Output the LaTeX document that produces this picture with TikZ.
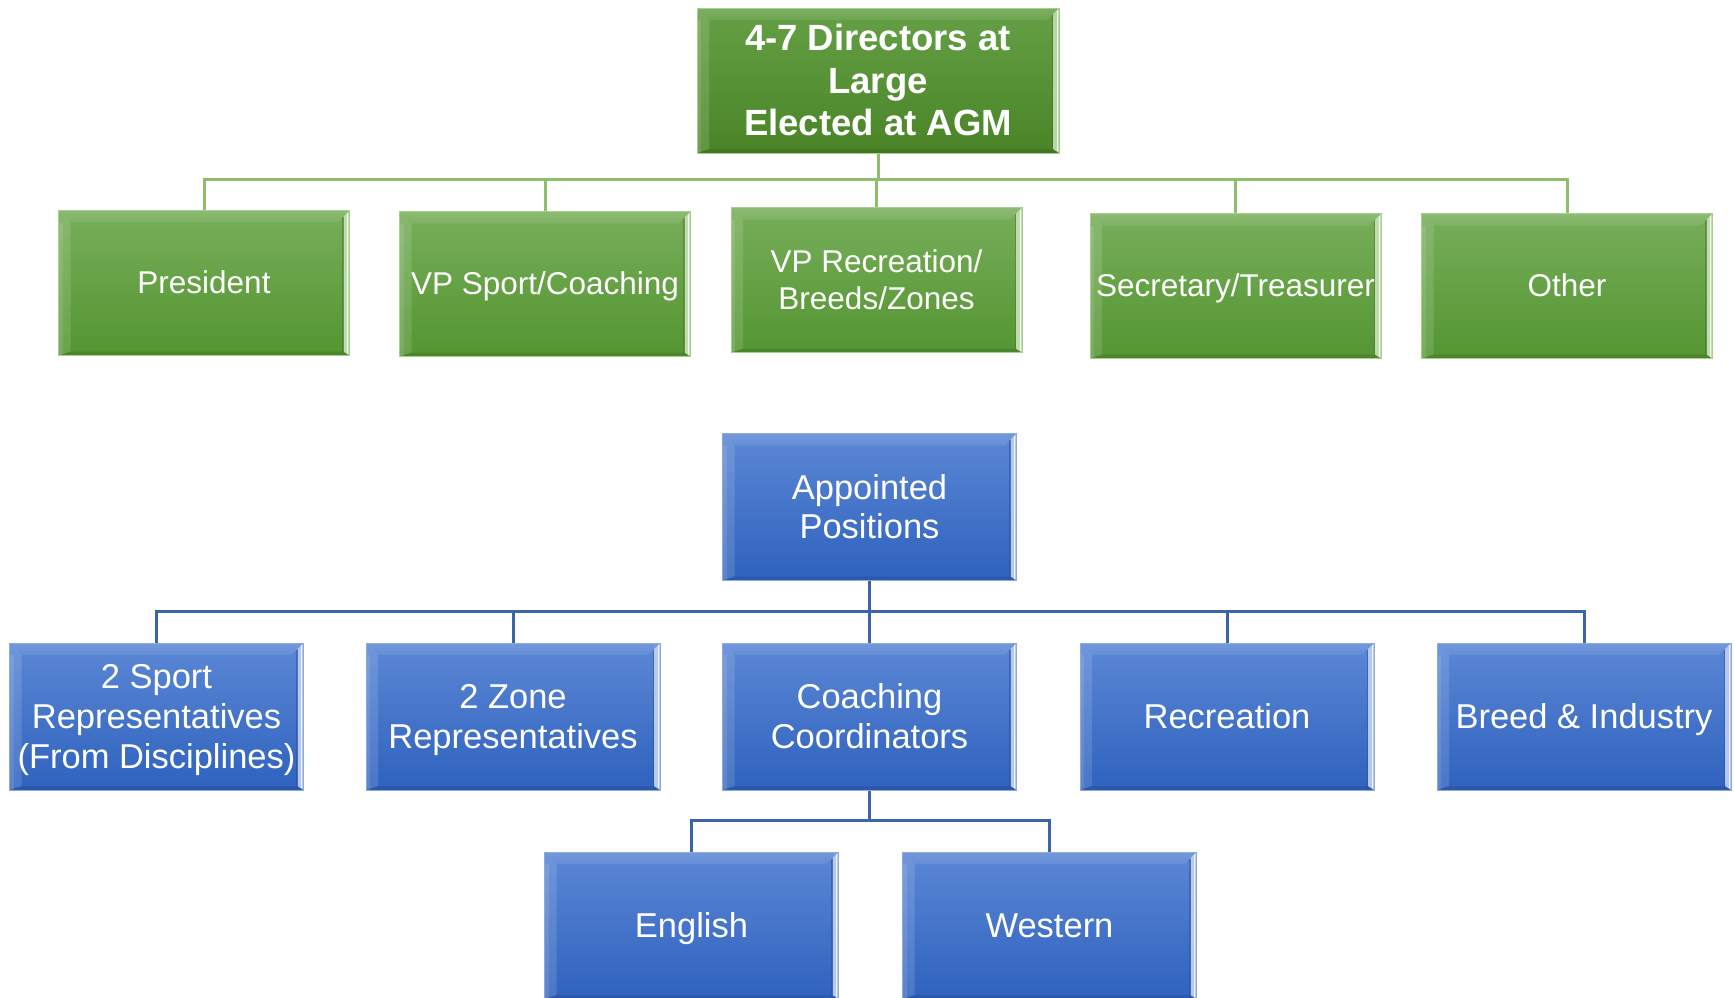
\documentclass[tikz,border=0pt]{standalone}
\usepackage{fontspec}
\setmainfont{Liberation Sans}
\usetikzlibrary{calc}
\definecolor{gtop}{HTML}{77AE5A}
\definecolor{gbot}{HTML}{549531}
\definecolor{ttop}{HTML}{66A046}
\definecolor{tbot}{HTML}{4A8427}
\definecolor{gedge}{HTML}{A8D08D}
\definecolor{gline}{HTML}{8DBF6E}
\definecolor{btop}{HTML}{5B87D5}
\definecolor{bbot}{HTML}{2F62BE}
\definecolor{bedge}{HTML}{8EAADB}
\definecolor{bline}{HTML}{3C65A8}
\newcommand\lst{\rule[-0.212em]{0pt}{1.117em}}
\tikzset{
  bevel/.style={path picture={
    \coordinate (pNW) at (path picture bounding box.north west);
    \coordinate (pNE) at (path picture bounding box.north east);
    \coordinate (pSW) at (path picture bounding box.south west);
    \coordinate (pSE) at (path picture bounding box.south east);
    \shade[top color=#1top, bottom color=#1bot] (pSW) rectangle (pNE);
    \shade[top color=#1top!85!white, middle color=#1top!55!white, bottom color=#1top!95!white]
      (pNW) -- (pNE) -- ($(pNE)+(-12pt,-12pt)$) -- ($(pNW)+(12pt,-12pt)$) -- cycle;
    \fill[white,opacity=.13] (pNW) -- ($(pNW)+(12pt,-12pt)$) -- ($(pSW)+(12pt,4pt)$) -- (pSW) -- cycle;
    \fill[white,opacity=.1] ($(pNW)+(0pt,-12pt)$) rectangle ($(pSW)+(4pt,0pt)$);
    \fill[black,opacity=.10] (pSW) -- ($(pSW)+(12pt,4pt)$) -- ($(pSE)+(-6pt,4pt)$) -- (pSE) -- cycle;
    \fill[#1top!45!white] (pNE) -- ($(pNE)+(-6pt,-6pt)$) -- ($(pSE)+(-6pt,4pt)$) -- (pSE) -- cycle;
    \draw[#1bot!80!black,opacity=.5,line width=1.2pt] ($(pNE)+(-6.5pt,-6.5pt)$) -- ($(pSE)+(-6.5pt,4pt)$);
    \draw[white,opacity=.8,line width=1pt] ($(pNE)+(-2pt,-2pt)$) -- ($(pSE)+(-2pt,2pt)$);
  }},
  gbox/.style={bevel=g, draw=gedge, line width=1pt, inner sep=0pt, text=white, align=center,
    minimum width=291pt, minimum height=145pt, font=\fontsize{31.5}{36.5}\selectfont},
  topbox/.style={bevel=t, draw=gedge, line width=1pt, inner sep=0pt, text=white, align=center,
    minimum width=362pt, minimum height=145pt, font=\fontsize{36.5}{42.5}\selectfont\bfseries},
  bbox/.style={bevel=b, draw=bedge, line width=1pt, inner sep=0pt, text=white, align=center,
    minimum width=294pt, minimum height=147pt, font=\fontsize{34.5}{39.7}\selectfont},
  gconn/.style={draw=gline, line width=3pt},
  bconn/.style={draw=bline, line width=3pt},
}
\begin{document}
\begin{tikzpicture}[x=1pt,y=-1pt]
\useasboundingbox (0,0) rectangle (1734,997);
\clip (0,0) rectangle (1734,997);
\fill[white] (0,0) rectangle (1734,997);
% connector junctions
\coordinate (gbus) at (878,179);
\coordinate (bbus) at (869.5,611);
\coordinate (cbus) at (869.5,820);
% node positions
\path
  (878,80.5) coordinate (ptop)
  (204,283) coordinate (ppres)
  (545,284) coordinate (pvps)
  (876.5,280) coordinate (pvpr)
  (1235.5,286) coordinate (psec)
  (1567,286) coordinate (poth)
  (869.5,507) coordinate (papp)
  (156.5,716.5) coordinate (psport)
  (513,716.5) coordinate (pzone)
  (869.5,716.5) coordinate (pcoach)
  (1227,716.5) coordinate (prec)
  (1584,716.5) coordinate (pbreed)
  (691.5,925.5) coordinate (peng)
  (1049.5,925.5) coordinate (pwest);
\node[topbox] (top) at (ptop) {\lst 4-7 Directors at\\\lst Large\\\lst Elected at AGM};
\node[gbox] (pres) at (ppres) {\lst President};
\node[gbox] (vps) at (pvps) {\lst VP Sport/Coaching};
\node[gbox] (vpr) at (pvpr) {\lst VP Recreation/\\\lst Breeds/Zones};
\node[gbox] (sec) at (psec) {\lst Secretary/Treasurer};
\node[gbox] (oth) at (poth) {\lst Other};
\node[bbox] (app) at (papp) {\lst Appointed\\\lst Positions};
\node[bbox] (sport) at (psport) {\lst 2 Sport\\\lst Representatives\\\lst (From Disciplines)};
\node[bbox] (zone) at (pzone) {\lst 2 Zone\\\lst Representatives};
\node[bbox] (coach) at (pcoach) {\lst Coaching\\\lst Coordinators};
\node[bbox] (rec) at (prec) {\lst Recreation};
\node[bbox] (breed) at (pbreed) {\lst Breed \& Industry};
\node[bbox] (eng) at (peng) {\lst English};
\node[bbox] (west) at (pwest) {\lst Western};
% connectors
\draw[gconn] (top.south) -- (gbus);
\draw[gconn] (gbus) -| (pres.north);
\draw[gconn] (gbus) -| (vps.north);
\draw[gconn] (gbus) -| (vpr.north);
\draw[gconn] (gbus) -| (sec.north);
\draw[gconn] (gbus) -| (oth.north);
\draw[bconn] (app.south) -- (bbus);
\draw[bconn] (bbus) -| (sport.north);
\draw[bconn] (bbus) -| (zone.north);
\draw[bconn] (bbus) -| (coach.north);
\draw[bconn] (bbus) -| (rec.north);
\draw[bconn] (bbus) -| (breed.north);
\draw[bconn] (coach.south) -- (cbus);
\draw[bconn] (cbus) -| (eng.north);
\draw[bconn] (cbus) -| (west.north);
\end{tikzpicture}
\end{document}
